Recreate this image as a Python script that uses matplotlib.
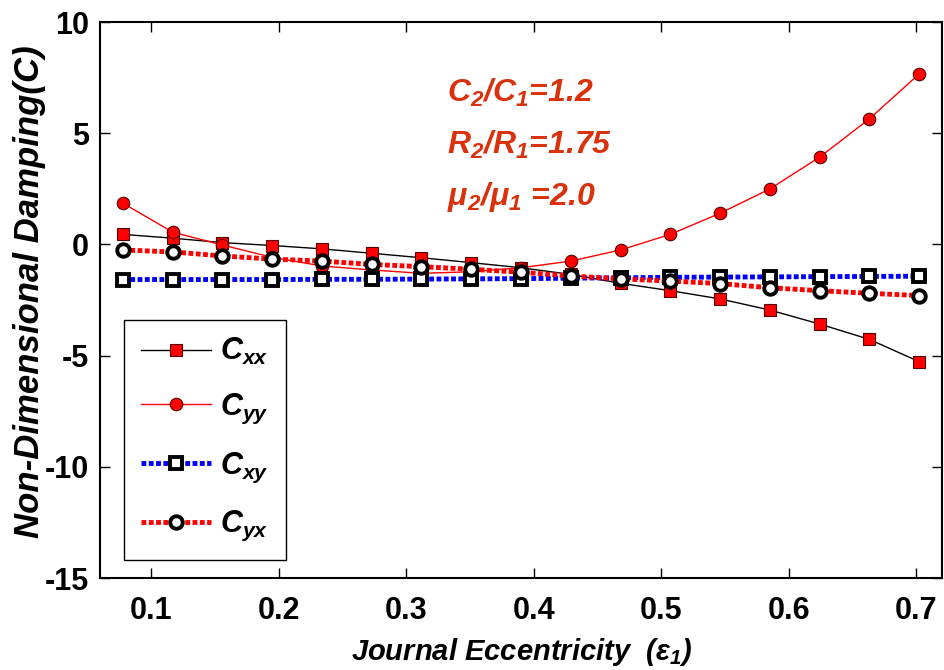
import matplotlib
matplotlib.use("Agg")
import matplotlib.pyplot as plt

# ---- data ----
ecc = [0.078, 0.117, 0.156, 0.195, 0.234, 0.273, 0.312, 0.351, 0.390,
       0.429, 0.468, 0.507, 0.546, 0.585, 0.624, 0.663, 0.702]
cxx = [0.45, 0.28, 0.08, -0.05, -0.20, -0.40, -0.60, -0.82, -1.05,
       -1.35, -1.75, -2.08, -2.45, -2.95, -3.58, -4.27, -5.27]
cyy = [1.85, 0.55, -0.03, -0.58, -0.97, -1.15, -1.30, -1.23, -1.05,
       -0.75, -0.25, 0.45, 1.40, 2.49, 3.92, 5.64, 7.66]
cxy = [-1.58, -1.58, -1.58, -1.58, -1.57, -1.57, -1.56, -1.55, -1.54,
       -1.52, -1.50, -1.48, -1.47, -1.46, -1.45, -1.44, -1.43]
cyx = [-0.25, -0.34, -0.52, -0.66, -0.75, -0.90, -1.00, -1.12, -1.25,
       -1.42, -1.55, -1.65, -1.76, -1.95, -2.08, -2.20, -2.30]
xticks = [0.1, 0.2, 0.3, 0.4, 0.5, 0.6, 0.7]
xticklabels = ["0.1", "0.2", "0.3", "0.4", "0.5", "0.6", "0.7"]
yticks = [-15, -10, -5, 0, 5, 10]
yticklabels = ["-15", "-10", "-5", "0", "5", "10"]
labels = [r"$C_{xx}$", r"$C_{yy}$", r"$C_{xy}$", r"$C_{yx}$"]
notes = [r"$C_2$/$C_1$=1.2", r"$R_2$/$R_1$=1.75", r"$\mu_2$/$\mu_1$ =2.0"]

FONT = "Liberation Sans"
plt.rcParams["font.family"] = [FONT, "DejaVu Sans"]
plt.rcParams["font.weight"] = "bold"
plt.rcParams["mathtext.fontset"] = "custom"
plt.rcParams["mathtext.rm"] = "Liberation Sans:bold:italic"
plt.rcParams["mathtext.it"] = "Liberation Sans:bold:italic"
plt.rcParams["mathtext.bf"] = "Liberation Sans:bold:italic"

fig = plt.figure(figsize=(9.44, 6.70), dpi=100)
ax = fig.add_axes([100/944, 92/670, 842/944, 556/670])

ax.plot(ecc, cxx, color="black", lw=1.0, marker="s", ms=8,
        mfc="#ff0000", mec="#550000", mew=0.8, label=labels[0], zorder=3)
ax.plot(ecc, cyy, color="#ff0000", lw=1.0, marker="o", ms=9,
        mfc="#ff0000", mec="#550000", mew=0.8, label=labels[1], zorder=3)
ax.plot(ecc, cxy, color="#0000ff", lw=3.5, ls=(0, (1.0, 0.5)), marker="s",
        ms=9, mfc="white", mec="black", mew=2.8, label=labels[2], zorder=4)
ax.plot(ecc, cyx, color="#ff0000", lw=3.5, ls=(0, (1.0, 0.5)), marker="o",
        ms=9, mfc="white", mec="black", mew=2.8, label=labels[3], zorder=5)

ax.set_xlim(0.06, 0.72)
ax.set_ylim(-15, 10)
ax.set_xticks(xticks)
ax.set_xticklabels(xticklabels, fontsize=22, fontweight="bold")
ax.set_yticks(yticks)
ax.set_yticklabels(yticklabels, fontsize=22, fontweight="bold")
ax.tick_params(direction="in", length=7, width=1, top=True, right=True,
               pad=8, colors="black")
ax.tick_params(axis="x", pad=13)
for s in ax.spines.values():
    s.set_linewidth(1.5)

ax.set_xlabel(r"Journal Eccentricity  $(\varepsilon_1)$", fontsize=21,
              fontweight="bold", style="italic")
ax.xaxis.set_label_coords(0.501, -0.105)
ax.set_ylabel("Non-Dimensional Damping(C)", fontsize=25, fontweight="bold",
              style="italic")
ax.yaxis.set_label_coords(-0.064, 0.515)

leg = ax.legend(loc="lower left", bbox_to_anchor=(0.0285, 0.032),
                borderaxespad=0, fontsize=22, frameon=True, fancybox=False,
                edgecolor="black", framealpha=1, handlelength=2.3,
                handletextpad=0.3, labelspacing=0.8, borderpad=0.55)
leg.get_frame().set_linewidth(1.0)

note_color = "#d9310b"
for i, t in enumerate(notes):
    ax.text(0.412, 0.856 - i*0.093, t, transform=ax.transAxes, fontsize=23,
            color=note_color, va="baseline", ha="left", style="italic",
            fontweight="bold")

fig.savefig("out.png", dpi=100)
